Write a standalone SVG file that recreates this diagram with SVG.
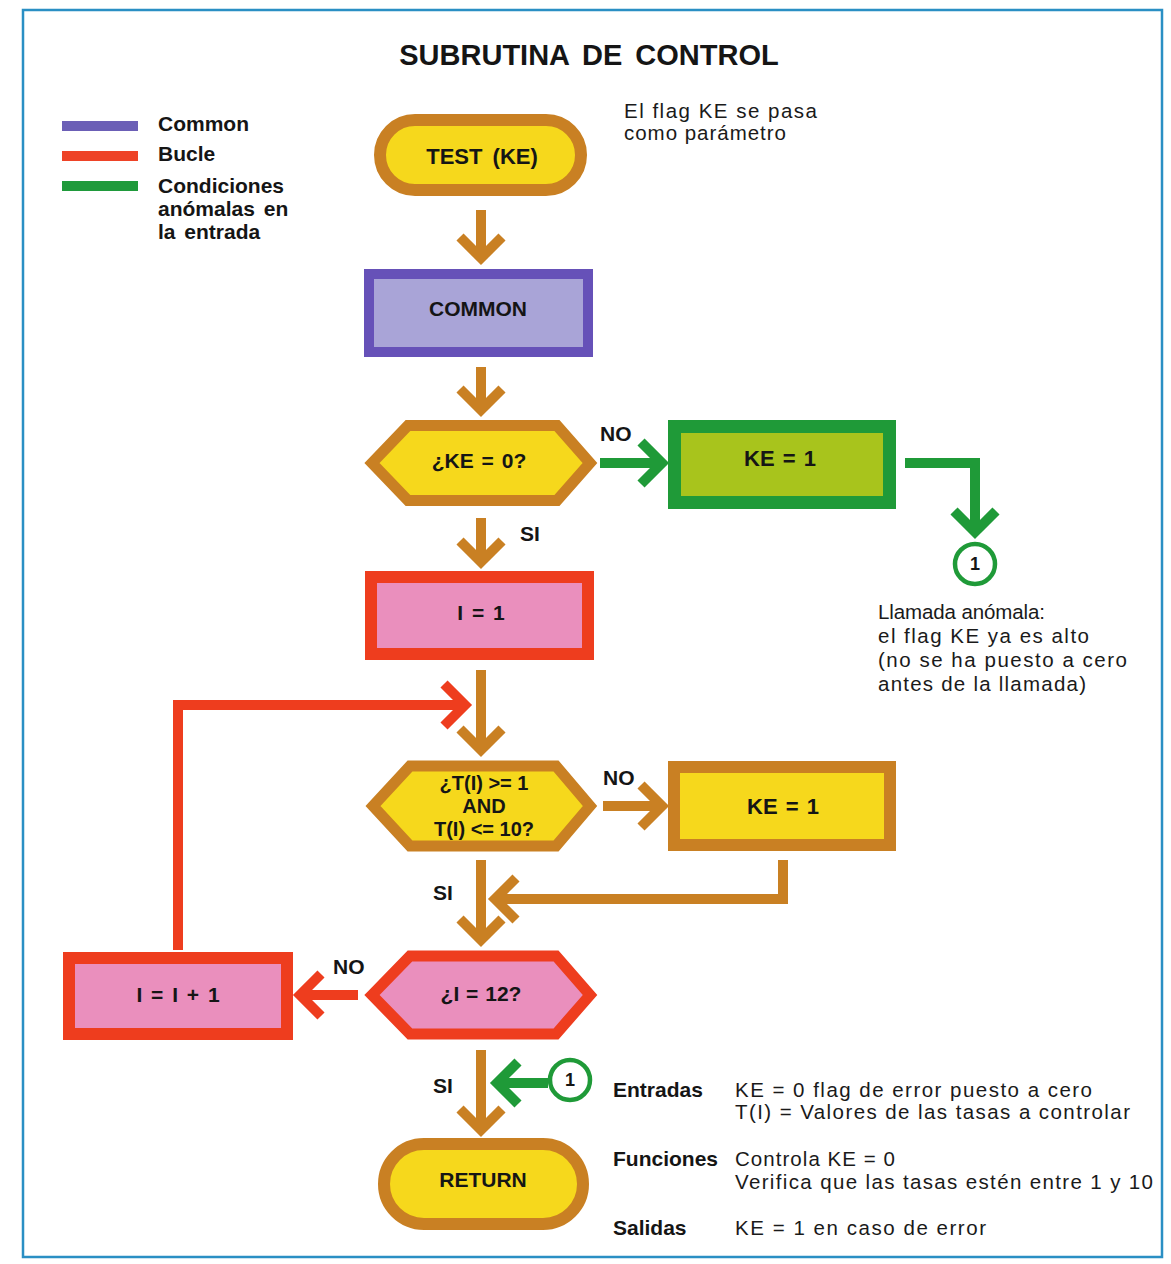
<svg xmlns="http://www.w3.org/2000/svg" width="1171" height="1264" viewBox="0 0 1171 1264">
<style>
.b{font-family:"Liberation Sans",Arial,sans-serif;font-weight:bold;fill:#151515}
.r{font-family:"Liberation Sans",Arial,sans-serif;fill:#1a1a1a;font-size:20.5px}
.c{text-anchor:middle;dominant-baseline:central}
.or{stroke:#c98023;fill:#f6d81c}
.pu{stroke:#6651b8;fill:#a9a4d7}
.rd{stroke:#ee3d1e;fill:#ea8fbd}
.gr{stroke:#1f9a38;fill:#a8c41c}
.aO{stroke:#c98023;fill:none;stroke-width:10}
.aR{stroke:#ee3d1e;fill:none;stroke-width:10}
.aG{stroke:#1f9a38;fill:none;stroke-width:10}
</style>
<rect width="1171" height="1264" fill="#ffffff"/>
<rect x="23" y="10" width="1139" height="1247" fill="none" stroke="#2a8fc4" stroke-width="2.5"/>
<text class="b c" x="589" y="55" font-size="29" word-spacing="5">SUBRUTINA DE CONTROL</text>
<g id="legend">
<rect x="62" y="121" width="76" height="10" fill="#6b5fb6"/>
<rect x="62" y="151" width="76" height="10" fill="#ee4327"/>
<rect x="62" y="181" width="76" height="10" fill="#1f9a3b"/>
<text class="b" x="158" y="131" font-size="21">Common</text>
<text class="b" x="158" y="161" font-size="21">Bucle</text>
<text class="b" x="158" y="193" font-size="21">Condiciones</text>
<text class="b" x="158" y="216" font-size="21" word-spacing="3">anómalas en</text>
<text class="b" x="158" y="239" font-size="21" word-spacing="3">la entrada</text>
</g>
<text class="r" x="624" y="118" textLength="193" lengthAdjust="spacing">El flag KE se pasa</text>
<text class="r" x="624" y="140" textLength="162" lengthAdjust="spacing">como parámetro</text>
<g id="test">
<rect class="or" x="380" y="120" width="201" height="70" rx="35" stroke-width="12"/>
<text class="b c" x="482" y="156" font-size="22" word-spacing="4">TEST (KE)</text>
</g>
<g id="common">
<rect class="pu" x="369" y="274" width="219" height="78" stroke-width="10"/>
<text class="b c" x="478" y="308" font-size="21">COMMON</text>
</g>
<g id="ke0">
<polygon class="or" points="372,463 408,425.5 557,425.5 590,463 557,500.5 408,500.5" stroke-width="11"/>
<text class="b c" x="479" y="460" font-size="21" word-spacing="2">¿KE = 0?</text>
</g>
<g id="ke1g">
<rect class="gr" x="674.5" y="426.5" width="215" height="76" stroke-width="13"/>
<text class="b c" x="780" y="458" font-size="22" word-spacing="2">KE = 1</text>
</g>
<g id="c1a">
<circle cx="975" cy="564" r="20" fill="#ffffff" stroke="#1f9a38" stroke-width="4.5"/>
<text class="b c" x="975" y="564" font-size="18">1</text>
</g>
<text class="r" x="878" y="619" textLength="167" lengthAdjust="spacing">Llamada anómala:</text>
<text class="r" x="878" y="643" textLength="211" lengthAdjust="spacing">el flag KE ya es alto</text>
<text class="r" x="878" y="667" textLength="249" lengthAdjust="spacing">(no se ha puesto a cero</text>
<text class="r" x="878" y="691" textLength="208" lengthAdjust="spacing">antes de la llamada)</text>
<g id="i1">
<rect class="rd" x="371" y="577" width="217" height="77" stroke-width="12"/>
<text class="b c" x="481" y="612" font-size="21" word-spacing="3">I = 1</text>
</g>
<g id="tcheck">
<polygon class="or" points="373,806 410,766 556,766 590,806 556,846 410,846" stroke-width="11"/>
<text class="b c" x="484" y="783" font-size="20">¿T(I) &gt;= 1</text>
<text class="b c" x="484" y="806" font-size="20">AND</text>
<text class="b c" x="484" y="829" font-size="20">T(I) &lt;= 10?</text>
</g>
<g id="ke1o">
<rect class="or" x="674" y="767" width="216" height="78" stroke-width="12"/>
<text class="b c" x="783" y="806" font-size="22" word-spacing="2">KE = 1</text>
</g>
<g id="i12">
<polygon class="rd" points="372,995 410,956 556,956 590,995 556,1034 410,1034" stroke-width="11"/>
<text class="b c" x="481" y="993" font-size="21" word-spacing="1">¿I = 12?</text>
</g>
<g id="inc">
<rect class="rd" x="69" y="958" width="218" height="76" stroke-width="12"/>
<text class="b c" x="178" y="994" font-size="21" word-spacing="3">I = I + 1</text>
</g>
<g id="c1b">
<circle cx="570" cy="1080" r="20" fill="#ffffff" stroke="#1f9a38" stroke-width="4.5"/>
<text class="b c" x="570" y="1080" font-size="18">1</text>
</g>
<g id="return">
<rect class="or" x="384" y="1144" width="199" height="80" rx="40" stroke-width="12"/>
<text class="b c" x="483" y="1179" font-size="21">RETURN</text>
</g>
<g id="connectors">
<path class="aO" d="M481,210V256M460,237L481,258L502,237"/>
<path class="aO" d="M481,367V408M460,389L481,410L502,389"/>
<path class="aO" d="M481,518V560M460,541L481,562L502,541"/>
<path class="aO" d="M481,670V748M460,729L481,750L502,729"/>
<path class="aO" d="M481,860V938M460,919L481,940L502,919"/>
<path class="aO" d="M481,1050V1128M460,1109L481,1130L502,1109"/>
<path class="aG" d="M600,463H660M641,442L662,463L641,484"/>
<path class="aO" d="M603,806H660M641,785L662,806L641,827"/>
<path class="aR" d="M358,995H302M321,974L300,995L321,1016"/>
<path class="aO" d="M783,860V899H497M516,878L495,899L516,920"/>
<path class="aR" d="M178,950V705H463M444,684L465,705L444,726"/>
<path class="aG" d="M905,463H975V530M954,511L975,532L996,511"/>
<path class="aG" d="M548,1083H499M518,1062L497,1083L518,1104"/>
</g>
<text class="b" x="600" y="441" font-size="21">NO</text>
<text class="b" x="520" y="541" font-size="21">SI</text>
<text class="b" x="603" y="785" font-size="21">NO</text>
<text class="b" x="433" y="900" font-size="21">SI</text>
<text class="b" x="333" y="974" font-size="21">NO</text>
<text class="b" x="433" y="1093" font-size="21">SI</text>
<text class="b" x="613" y="1097" font-size="21">Entradas</text>
<text class="r" x="735" y="1097" textLength="357" lengthAdjust="spacing">KE = 0 flag de error puesto a cero</text>
<text class="r" x="735" y="1119" textLength="395" lengthAdjust="spacing">T(I) =  Valores de las tasas a controlar</text>
<text class="b" x="613" y="1166" font-size="21">Funciones</text>
<text class="r" x="735" y="1166" textLength="160" lengthAdjust="spacing">Controla KE = 0</text>
<text class="r" x="735" y="1189" textLength="418" lengthAdjust="spacing">Verifica que las tasas estén entre 1 y 10</text>
<text class="b" x="613" y="1235" font-size="21">Salidas</text>
<text class="r" x="735" y="1235" textLength="251" lengthAdjust="spacing">KE = 1 en caso de error</text>
</svg>
